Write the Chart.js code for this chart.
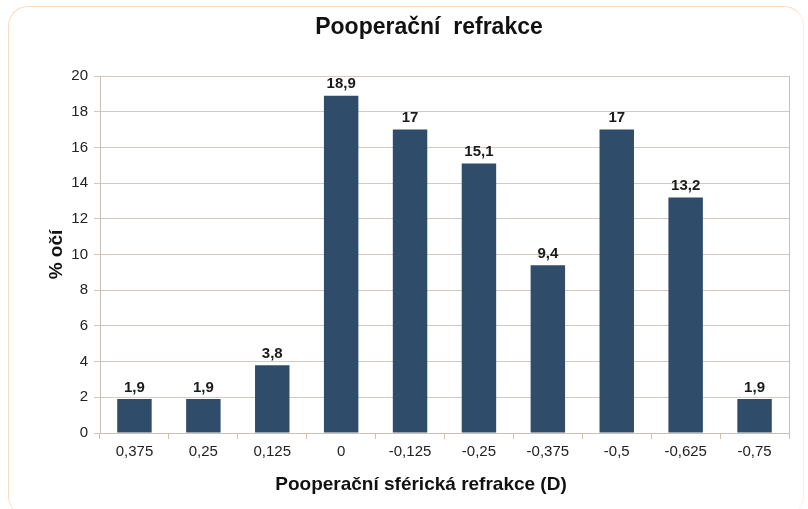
<!DOCTYPE html>
<html>
<head>
<meta charset="utf-8">
<script src="https://cdn.jsdelivr.net/npm/chart.js@4"></script>
<style>
  html, body { margin: 0; padding: 0; background: #ffffff; }
  #wrap { position: relative; width: 808px; height: 509px; overflow: hidden; }
  #card { position: absolute; left: 8px; top: 6px; width: 796px; height: 510px;
          border-left: 1px solid #fbdcc2; border-top: 1px solid #fbdcc2; border-right: 1px solid #fdeee0;
          border-radius: 20px; box-sizing: border-box; }
  canvas { position: absolute; left: 0; top: 0; }
</style>
</head>
<body>
<div id="wrap">
  <div id="card"></div>
  <canvas id="c" width="808" height="509"></canvas>
</div>
<script>
const chartTitle = "Pooperační  refrakce";
const xAxisTitle = "Pooperační sférická refrakce (D)";
const yAxisTitle = "% očí";
const categories = ["0,375", "0,25", "0,125", "0", "-0,125", "-0,25", "-0,375", "-0,5", "-0,625", "-0,75"];
const values = [1.9, 1.9, 3.8, 18.9, 17, 15.1, 9.4, 17, 13.2, 1.9];
const yTicks = [0, 2, 4, 6, 8, 10, 12, 14, 16, 18, 20];

const FONT = "'Liberation Sans', Arial, sans-serif";
const fmt = v => String(v).replace('.', ',');

const extras = {
  id: 'extras',
  afterDatasetsDraw(chart) {
    const ctx = chart.ctx;
    const meta = chart.getDatasetMeta(0);
    ctx.save();
    ctx.font = "bold 15px " + FONT;
    ctx.fillStyle = "#1a1a1a";
    ctx.textAlign = "center";
    ctx.textBaseline = "bottom";
    meta.data.forEach((bar, i) => {
      ctx.fillText(fmt(values[i]), bar.x, bar.y - 4);
    });
    ctx.restore();
  },
  afterDraw(chart) {
    const ctx = chart.ctx;
    const a = chart.chartArea;
    ctx.save();
    // right border of plot
    ctx.strokeStyle = "#cbbfb6";
    ctx.lineWidth = 1;
    ctx.beginPath();
    ctx.moveTo(Math.round(a.right) + 0.5, a.top);
    ctx.lineTo(Math.round(a.right) + 0.5, a.bottom + 5);
    ctx.stroke();
    // chart title
    ctx.fillStyle = "#111111";
    ctx.textAlign = "center";
    ctx.textBaseline = "middle";
    ctx.font = "bold 23px " + FONT;
    ctx.fillText(chartTitle, 429, 28);
    // x axis title
    ctx.font = "bold 19px " + FONT;
    ctx.fillText(xAxisTitle, 421, 485);
    ctx.restore();
  }
};

new Chart(document.getElementById('c'), {
  type: 'bar',
  data: {
    labels: categories,
    datasets: [{
      data: values,
      backgroundColor: "#2f4c6b",
      borderWidth: 0,
      barPercentage: 0.5,
      categoryPercentage: 1.0
    }]
  },
  options: {
    responsive: false,
    animation: false,
    events: [],
    layout: { padding: { top: 76, bottom: 46, left: 45, right: 19 } },
    plugins: { legend: { display: false }, tooltip: { enabled: false }, title: { display: false } },
    scales: {
      x: {
        grid: { display: true, offset: true, drawOnChartArea: false, drawTicks: true, tickLength: 6, color: "#cbbfb6" },
        border: { display: true, color: "#cbbfb6" },
        ticks: { color: "#222222", font: { family: FONT, size: 15 }, padding: 4, maxRotation: 0, autoSkip: false },
        afterFit(scale) { scale.height = 30; }
      },
      y: {
        min: 0, max: 20,
        afterBuildTicks(scale) { scale.ticks = yTicks.map(v => ({ value: v })); },
        grid: { color: "#d3c9c1", tickLength: 6, drawTicks: true },
        border: { display: true, color: "#cbbfb6" },
        ticks: { color: "#222222", font: { family: FONT, size: 15 }, padding: 6 },
        title: { display: true, text: yAxisTitle, color: "#111111", font: { family: FONT, size: 19, weight: 'bold' }, padding: 0 },
        afterFit(scale) { scale.width = 55; }
      }
    }
  },
  plugins: [extras]
});
</script>
</body>
</html>
